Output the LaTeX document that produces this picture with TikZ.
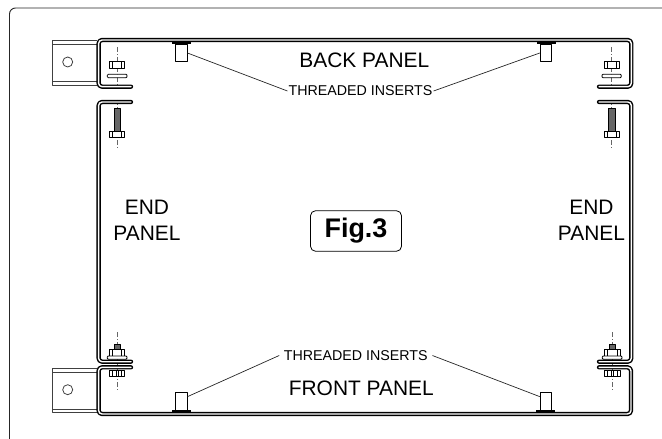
\documentclass[tikz,border=0pt]{standalone}
\usepackage{fontspec}
\setmainfont{Liberation Sans}
\tikzset{
  framelines/.style={draw=black!85,line width=0.9bp,rounded corners=6bp},
  panel/.style={draw=black,line width=1.45bp,double=white,double distance=1.4bp,line cap=round,line join=round,rounded corners=3.5bp},
  bracket/.style={draw=black!75,line width=0.8bp},
  steel/.style={draw=black,line width=0.8bp,fill=white},
  axisline/.style={draw=black!60,line width=0.5bp,dash pattern=on 5bp off 2bp on 1bp off 2bp},
  thread/.style={draw=black,line width=0.5bp,fill=black!60},
  flange/.style={fill=black,draw=none},
  insert/.style={draw=black,line width=0.8bp,fill=white,minimum width=11.7bp,inner sep=0pt},
  leader/.style={draw=black!85,line width=0.7bp},
  biglabel/.style={font=\fontsize{21}{26}\selectfont,align=center,inner sep=0pt},
  smalllabel/.style={font=\fontsize{14.3}{16}\selectfont,inner sep=1pt},
}
\begin{document}
\begin{tikzpicture}[x=1bp,y=-1bp,line join=bevel]
\useasboundingbox (0,0) rectangle (662,439);
%%
\draw [framelines] (662,8) -- (9.5,8) -- (9.5,439);
%% fixing lugs
\draw [bracket] (96.7,40.7) -- (52.3,40.7) -- (52.3,85) -- (96.7,85);
\draw [bracket] (52.3,44) -- (96.7,44) (52.3,81) -- (96.7,81);
\draw [bracket] (67.7,62) circle (5);
\draw [bracket] (96.7,368.7) -- (52.3,368.7) -- (52.3,412.7) -- (96.7,412.7);
\draw [bracket] (52.3,372.7) -- (96.7,372.7) (52.3,409) -- (96.7,409);
\draw [bracket] (67.7,389.7) circle (5);
%% centre lines
\draw [axisline] (117,47) -- (117,88);
\draw [axisline] (117,100) -- (117,148);
\draw [axisline] (117,332) -- (117,391);
\draw [axisline] (611.5,47) -- (611.5,88);
\draw [axisline] (611.5,100) -- (611.5,148);
\draw [axisline] (612.3,332) -- (612.3,391);
%% top left fixing
\draw [steel] (109.7,61.3) rectangle (124.7,68);
\draw [black,line width=0.5bp] (112.7,61.3) -- (112.7,68) (121.5,61.3) -- (121.5,68);
\draw [steel,rounded corners=1bp] (107.3,74.3) rectangle (127,77.7);
\draw [thread] (114,108.3) rectangle (120,131);
\draw [steel] (109.7,131) rectangle (124.7,137.7);
\draw [black,line width=0.5bp] (112.7,131) -- (112.7,137.7) (121.5,131) -- (121.5,137.7);
%% top right fixing
\draw [steel] (604,61.3) rectangle (619.3,68);
\draw [black,line width=0.5bp] (607,61.3) -- (607,68) (616,61.3) -- (616,68);
\draw [steel,rounded corners=1bp] (602,74.3) rectangle (621.3,77.7);
\draw [thread] (608.7,108.3) rectangle (615,131);
\draw [steel] (604,131) rectangle (619.3,137.7);
\draw [black,line width=0.5bp] (607,131) -- (607,137.7) (616,131) -- (616,137.7);
%% bottom left fixing
\draw [thread] (114.3,344) rectangle (120,349.3);
\draw [steel] (109.7,349.3) rectangle (124.7,356);
\draw [black,line width=0.5bp] (112.7,349.3) -- (112.7,356) (121.5,349.3) -- (121.5,356);
\draw [steel,rounded corners=1bp] (107.3,356) rectangle (127,359.3);
\draw [steel] (109.7,370.3) rectangle (124.7,376.7);
\draw [black,line width=0.5bp] (112.7,370.3) -- (112.7,376.7) (116,370.3) -- (116,376.7) (118.5,370.3) -- (118.5,376.7) (121.5,370.3) -- (121.5,376.7);
%% bottom right fixing
\draw [thread] (609.3,344) rectangle (615,349.3);
\draw [steel] (604.3,349.3) rectangle (620,356);
\draw [black,line width=0.5bp] (607.3,349.3) -- (607.3,356) (616.8,349.3) -- (616.8,356);
\draw [steel,rounded corners=1bp] (602.3,356) rectangle (622,359.3);
\draw [steel] (604.3,370.3) rectangle (620,376.7);
\draw [black,line width=0.5bp] (607.3,370.3) -- (607.3,376.7) (611,370.3) -- (611,376.7) (613.5,370.3) -- (613.5,376.7) (616.8,370.3) -- (616.8,376.7);
%% panels
\draw [panel] (131,86.7) -- (98.6,86.7) -- (98.6,40) -- (631.3,40) -- (631.3,86.7) -- (599,86.7);
\draw [panel] (131,102) -- (98.6,102) -- (98.6,361.7) -- (131,361.7);
\draw [panel] (599,102) -- (631.3,102) -- (631.3,361.7) -- (599,361.7);
\draw [panel] (131,367.3) -- (98.6,367.3) -- (98.6,414) -- (631,414) -- (631,367.3) -- (599,367.3);
%% threaded inserts
\node (insert_tl) at (181.2,53) [insert,minimum height=17.7bp] {};
\node (insert_tr) at (546,53) [insert,minimum height=17.7bp] {};
\node (insert_bl) at (181.3,401) [insert,minimum height=18bp] {};
\node (insert_br) at (546,401) [insert,minimum height=18bp] {};
\fill [flange] (172,42.2) rectangle (191,44.2);
\fill [flange] (536.7,42.2) rectangle (556,44.2);
\fill [flange] (171.7,410) rectangle (190.7,412);
\fill [flange] (536,410) rectangle (555.3,412);
%% labels
\node (back_panel) at (364.3,60) [biglabel] {BACK PANEL};
\node (front_panel) at (361.3,388) [biglabel] {FRONT PANEL};
\node (end_left) at (147,220) [biglabel] {END\\PANEL};
\node (end_right) at (591.5,220) [biglabel] {END\\PANEL};
\node (inserts_top) at (360.5,91) [smalllabel] {THREADED INSERTS};
\node (inserts_bottom) at (355.8,355.5) [smalllabel,inner sep=4.5bp] {THREADED INSERTS};
\node (fig_label) at (356,231) [draw=black,line width=0.8bp,rounded corners=5bp,font=\bfseries\fontsize{27}{30}\selectfont,minimum width=91bp,minimum height=40.5bp,inner sep=0pt] {Fig.3};
%% leaders
\draw [leader] (insert_tl.east) -- (inserts_top.west);
\draw [leader] (insert_tr.west) -- (inserts_top.east);
\draw [leader] (insert_bl.35) -- (inserts_bottom.west);
\draw [leader] (insert_br.145) -- (inserts_bottom.east);
%
\end{tikzpicture}
\end{document}
